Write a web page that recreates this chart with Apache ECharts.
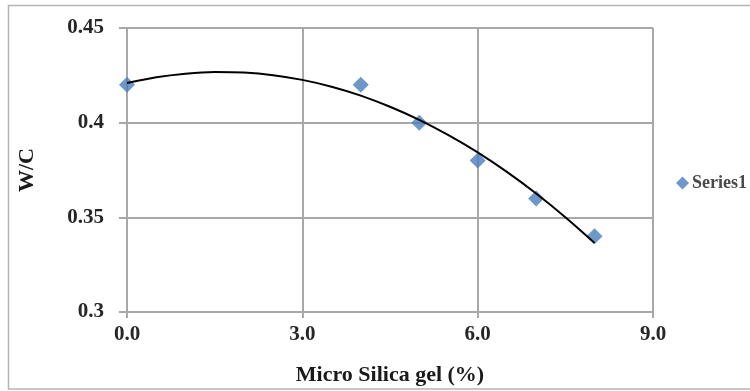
<!DOCTYPE html>
<html>
<head>
<meta charset="utf-8">
<style>
  html, body { margin: 0; padding: 0; background: #ffffff; }
  #chart { width: 750px; height: 391px; }
</style>
<script src="https://cdn.jsdelivr.net/npm/echarts@6/dist/echarts.min.js"></script>
</head>
<body>
<div id="chart"></div>
<script>
// Measured W/C ratio against micro silica gel dosage
const silicaPct = [0, 4, 5, 6, 7, 8];
const wcRatio = [0.42, 0.42, 0.40, 0.38, 0.36, 0.34];

// Second-order trendline values at half-percent steps
const trendPct = [0, 0.5, 1, 1.5, 2, 2.5, 3, 3.5, 4, 4.5, 5, 5.5, 6, 6.5, 7, 7.5, 8];
const trendWc = [0.4209, 0.4240, 0.4259, 0.4268, 0.4265, 0.4251, 0.4226, 0.4190, 0.4143,
                 0.4084, 0.4015, 0.3934, 0.3843, 0.3740, 0.3626, 0.3501, 0.3365];

// Axis ranges and tick steps
const xMin = 0, xMax = 9, xStep = 3;
const yMin = 0.3, yMax = 0.45, yStep = 0.05;

const serif = '"Liberation Serif", "Times New Roman", serif';
const gridColor = '#a8a8a8';

const chart = echarts.init(document.getElementById('chart'), null, { renderer: 'canvas' });

chart.setOption({
  animation: false,
  backgroundColor: '#ffffff',
  grid: { left: 127, right: 97, top: 28, bottom: 76, containLabel: false },
  graphic: [{
    type: 'rect',
    silent: true,
    shape: { x: 8.5, y: 5.5, width: 760, height: 383.5 },
    style: { fill: 'none', stroke: '#b4b4b4', lineWidth: 1.5 }
  }],
  legend: {
    orient: 'vertical',
    left: 671,
    top: 169,
    data: [{ name: 'Series1', icon: 'diamond' }],
    itemWidth: 13,
    itemHeight: 13,
    itemGap: 4,
    textStyle: { fontFamily: serif, fontWeight: 'bold', fontSize: 18, color: '#4a4a4a', padding: [0, 0, 0, -2] }
  },
  xAxis: {
    type: 'value',
    min: xMin, max: xMax, interval: xStep,
    name: 'Micro Silica gel (%)',
    nameLocation: 'middle',
    nameGap: 52,
    nameTextStyle: { fontFamily: serif, fontWeight: 'bold', fontSize: 22, color: '#1a1a1a' },
    axisLine: { show: true, lineStyle: { color: gridColor, width: 2 } },
    axisTick: { show: true, inside: false, length: 6, lineStyle: { color: gridColor, width: 2 } },
    axisLabel: {
      margin: 12,
      fontFamily: serif, fontWeight: 'bold', fontSize: 21, color: '#262626',
      formatter: v => v.toFixed(1)
    },
    splitLine: { show: true, lineStyle: { color: gridColor, width: 2 } }
  },
  yAxis: {
    type: 'value',
    min: yMin, max: yMax, interval: yStep,
    name: 'W/C',
    nameLocation: 'middle',
    nameRotate: 90,
    nameGap: 89,
    nameTextStyle: { fontFamily: serif, fontWeight: 'bold', fontSize: 22, color: '#1a1a1a' },
    axisLine: { show: true, lineStyle: { color: gridColor, width: 2 } },
    axisTick: { show: true, inside: false, length: 8, lineStyle: { color: gridColor, width: 2 } },
    axisLabel: {
      margin: 23,
      fontFamily: serif, fontWeight: 'bold', fontSize: 21, color: '#262626',
      formatter: v => String(parseFloat(v.toFixed(2)))
    },
    splitLine: { show: true, lineStyle: { color: gridColor, width: 2 } }
  },
  series: [
    {
      name: 'Trend',
      type: 'line',
      data: trendPct.map((x, i) => [x, trendWc[i]]),
      smooth: 0.3,
      showSymbol: false,
      symbol: 'none',
      lineStyle: { color: '#000000', width: 2 },
      z: 3,
      silent: true
    },
    {
      name: 'Series1',
      type: 'scatter',
      data: silicaPct.map((x, i) => [x, wcRatio[i]]),
      symbol: 'diamond',
      symbolSize: 16,
      itemStyle: { color: '#4a7ebb' },
      z: 2
    }
  ]
});
</script>
</body>
</html>
